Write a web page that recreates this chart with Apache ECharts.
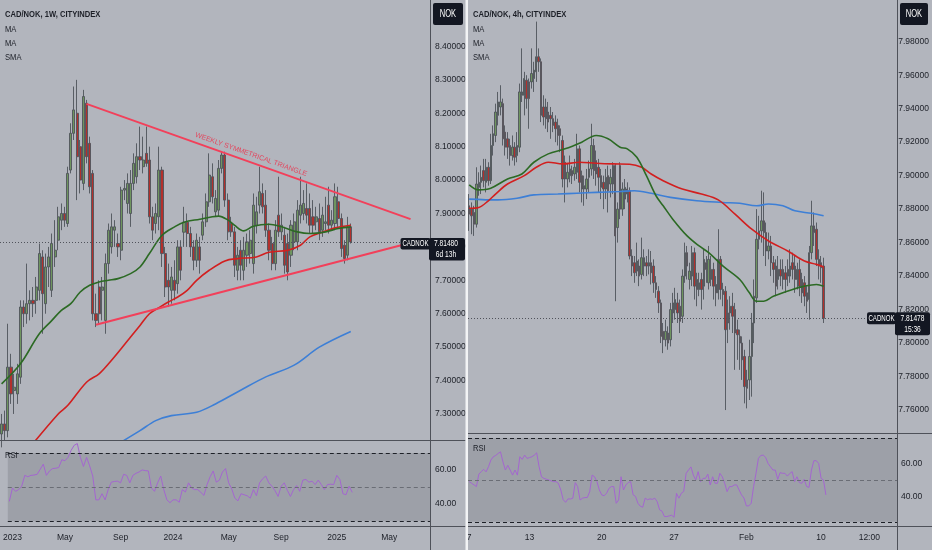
<!DOCTYPE html>
<html><head><meta charset="utf-8">
<script src="https://cdn.jsdelivr.net/npm/echarts@6/dist/echarts.min.js"></script>
<style>html,body{margin:0;padding:0;background:#b2b5bd;}#c{width:932px;height:550px;}</style>
</head><body><div id="c"></div>
<script>
// ---------------- LEFT PANEL (weekly) ----------------
const leftStart = '2022-12-26';
const leftCount = 137;
const leftTicks = [['2023-01-02','2023'],['2023-05-01','May'],['2023-09-04','Sep'],['2024-01-01','2024'],['2024-05-06','May'],['2024-09-02','Sep'],['2025-01-06','2025'],['2025-05-05','May']];
const leftPriceTicks = [7.3,7.4,7.5,7.6,7.7,7.8,7.9,8.0,8.1,8.2,8.3,8.4];
// [open, close, low, high]
const leftCandles = [
[7.24,7.27,7.20,7.30],[7.27,7.25,7.22,7.31],[7.25,7.44,7.23,7.57],[7.44,7.36,7.33,7.48],[7.37,7.38,7.30,7.42],
[7.36,7.42,7.33,7.45],[7.41,7.62,7.39,7.64],[7.62,7.60,7.56,7.64],[7.60,7.63,7.57,7.75],[7.63,7.64,7.58,7.67],
[7.64,7.63,7.59,7.68],[7.64,7.68,7.60,7.71],[7.67,7.78,7.64,7.81],[7.77,7.66,7.54,7.79],[7.63,7.74,7.60,7.78],
[7.74,7.77,7.68,7.80],[7.67,7.81,7.65,7.84],[7.77,7.79,7.74,7.88],[7.82,7.89,7.79,7.92],[7.88,7.90,7.85,7.93],
[7.90,7.88,7.86,7.92],[7.87,8.02,7.86,8.04],[8.03,8.14,8.02,8.17],[8.14,8.21,8.12,8.28],[8.20,8.07,7.94,8.30],
[8.10,8.00,7.96,8.12],[7.99,8.25,7.97,8.27],[8.23,8.07,8.05,8.24],[8.11,7.98,7.96,8.13],[8.02,7.60,7.58,8.03],
[7.60,7.58,7.56,7.66],[7.68,7.60,7.57,7.70],[7.67,7.68,7.58,7.71],[7.58,7.75,7.54,7.78],[7.75,7.85,7.72,7.87],
[7.80,7.86,7.78,7.90],[7.85,7.86,7.80,7.88],[7.81,7.80,7.77,7.84],[7.79,7.97,7.76,7.98],[7.97,7.975,7.94,8.00],
[7.93,7.99,7.90,8.02],[7.90,7.99,7.86,8.03],[7.99,8.05,7.97,8.08],[8.01,8.07,7.99,8.11],[8.07,8.06,8.03,8.16],
[8.04,8.06,8.02,8.13],[8.08,8.05,8.04,8.16],[8.06,7.89,7.87,8.10],[7.89,7.85,7.82,7.92],[7.87,7.90,7.84,7.93],
[7.89,8.03,7.85,8.10],[8.03,7.78,7.74,8.04],[7.78,7.68,7.65,7.80],[7.70,7.68,7.62,7.75],[7.67,7.71,7.63,7.74],
[7.70,7.67,7.64,7.76],[7.69,7.80,7.66,7.82],[7.80,7.73,7.70,7.82],[7.844,7.874,7.80,7.92],[7.874,7.84,7.80,7.90],
[7.84,7.80,7.77,7.86],[7.80,7.76,7.73,7.82],[7.76,7.82,7.74,7.84],[7.80,7.76,7.72,7.83],[7.835,7.875,7.82,7.90],
[7.875,7.935,7.86,7.96],[7.935,8.015,7.92,8.08],[8.01,7.95,7.93,8.05],[7.905,7.945,7.89,7.97],[7.91,8.035,7.89,8.06],
[8.035,8.075,8.02,8.085],[8.075,7.94,7.92,8.085],[7.94,7.845,7.82,7.96],[7.87,7.845,7.83,7.89],[7.845,7.745,7.71,7.86],
[7.73,7.775,7.70,7.80],[7.79,7.745,7.70,7.82],[7.73,7.79,7.70,7.83],[7.775,7.815,7.74,7.84],[7.78,7.82,7.75,7.85],
[7.75,7.925,7.72,7.96],[7.865,7.905,7.84,7.95],[7.925,7.965,7.90,8.04],[7.96,7.92,7.90,7.99],[7.925,7.85,7.83,7.97],
[7.85,7.79,7.76,7.87],[7.81,7.75,7.73,7.83],[7.75,7.85,7.73,7.88],[7.895,7.845,7.83,8.01],[7.845,7.865,7.82,7.90],
[7.835,7.745,7.72,7.86],[7.81,7.725,7.70,7.84],[7.775,7.865,7.74,7.88],[7.815,7.875,7.79,7.90],[7.815,7.91,7.79,7.94],
[7.895,7.925,7.87,8.01],[7.90,7.93,7.88,7.97],[7.915,7.895,7.87,7.99],[7.915,7.865,7.84,7.96],[7.89,7.865,7.84,7.94],
[7.875,7.89,7.85,7.92],[7.885,7.845,7.82,7.93],[7.85,7.895,7.83,7.92],[7.87,7.875,7.85,7.95],[7.925,7.865,7.84,7.98],
[7.865,7.88,7.85,7.91],[7.87,7.95,7.85,7.99],[7.935,7.885,7.86,7.98],[7.885,7.795,7.77,7.90],[7.805,7.765,7.75,7.82],
[7.775,7.86,7.76,7.89],[7.86,7.8148,7.81,7.87]
];
// [category index, value]
const leftMaFast = [[0,7.39],[6,7.45],[12,7.54],[16,7.58],[19,7.61],[22,7.63],[25,7.665],[28,7.685],[31,7.695],[34,7.70],[37,7.705],[41,7.72],[44,7.74],[47,7.78],[51,7.835],[55,7.86],[58,7.874],[63,7.883],[67,7.89],[69,7.892],[72,7.88],[74,7.865],[77,7.848],[80,7.862],[85,7.868],[89,7.86],[94,7.845],[98,7.84],[103,7.845],[107,7.855],[111,7.86]];
const leftMaSlow = [[9,7.20],[18,7.30],[21,7.325],[27,7.395],[31,7.42],[34,7.45],[38,7.495],[41,7.53],[44,7.565],[47,7.60],[50,7.618],[53,7.635],[56,7.65],[59,7.67],[62,7.70],[66,7.73],[71,7.758],[75,7.765],[81,7.77],[85,7.784],[91,7.79],[95,7.805],[98,7.83],[102,7.844],[106,7.857],[111,7.865]];
const leftSma = [[37,7.21],[44,7.25],[49,7.28],[54,7.295],[62,7.305],[68,7.33],[76,7.371],[84,7.411],[93,7.446],[101,7.50],[111,7.547]];
const leftRsi = [41.5,49.4,47.4,48.4,50.4,56.8,56,56.8,57,57.4,60.4,63.4,56.8,59.4,60.8,61,61.4,66,65.4,67.4,71.5,74.5,75.5,67.4,62,67.4,62.4,56.4,42.4,42.4,46,42.4,48.4,52.8,53.2,53.4,52.4,57.4,56.8,52.4,56.8,58,58.8,60,59.6,59.4,49.4,47.4,52.4,56.4,48.4,42.4,40.7,42.4,42.4,41,48.4,47,52.4,49.4,48.4,48.4,46.8,45,51.4,56,59.4,52.8,54,58.8,60.8,52.4,48.8,43.4,41.8,46,45.4,44.8,43.4,48.4,44.8,52.4,54.8,56.4,52.4,50.4,47.8,44.4,50.4,52.4,48,44.4,48.4,50.8,47.4,54,54.4,52.8,53.4,51.4,54,51.4,48.4,51.4,51.6,51.4,56.8,54.4,46,45.4,50.4,46.8];
const leftTriUpper = [[27,8.228],[130,7.883]];
const leftTriLower = [[30,7.567],[127,7.805]];
const leftLast = 7.8148, leftLastText = '7.81480', leftCountdown = '6d 13h';
const leftTitle = 'CAD/NOK, 1W, CITYINDEX';
const triangleText = 'WEEKLY SYMMETRICAL TRIANGLE';

// ---------------- RIGHT PANEL (4h) ----------------
const rightCount = 178;
const rightTicks = [[0,'7'],[25,'13'],[55,'20'],[85,'27'],[115,'Feb'],[146,'10'],[166,'12:00']];
const rightPriceTicks = [7.76,7.78,7.80,7.82,7.84,7.86,7.88,7.90,7.92,7.94,7.96,7.98];
const rightCandles = [
[7.882,7.877,7.867,7.889],[7.880,7.876,7.865,7.884],[7.878,7.871,7.864,7.882],[7.871,7.895,7.869,7.905],[7.893,7.896,7.888,7.902],
[7.896,7.899,7.889,7.906],[7.903,7.897,7.893,7.910],[7.896,7.905,7.890,7.910],[7.905,7.897,7.894,7.908],[7.897,7.918,7.895,7.925],
[7.918,7.925,7.912,7.930],[7.924,7.938,7.920,7.943],[7.936,7.944,7.930,7.950],[7.941,7.944,7.936,7.954],[7.943,7.922,7.918,7.946],
[7.926,7.917,7.912,7.930],[7.922,7.917,7.910,7.926],[7.918,7.912,7.906,7.922],[7.912,7.917,7.909,7.924],[7.917,7.911,7.906,7.920],
[7.912,7.918,7.908,7.926],[7.917,7.950,7.914,7.955],[7.948,7.950,7.944,7.976],[7.948,7.958,7.936,7.962],[7.957,7.946,7.940,7.960],
[7.956,7.946,7.928,7.958],[7.956,7.961,7.952,7.976],[7.958,7.963,7.950,7.968],[7.962,7.971,7.956,7.992],[7.971,7.968,7.962,7.976],
[7.968,7.936,7.932,7.970],[7.941,7.935,7.930,7.948],[7.941,7.934,7.928,7.946],[7.938,7.932,7.926,7.944],[7.936,7.934,7.922,7.941],
[7.934,7.930,7.926,7.938],[7.932,7.928,7.920,7.936],[7.930,7.924,7.918,7.934],[7.928,7.924,7.914,7.930],[7.921,7.898,7.893,7.924],
[7.908,7.898,7.884,7.912],[7.898,7.902,7.893,7.907],[7.900,7.904,7.896,7.912],[7.903,7.900,7.895,7.906],[7.901,7.905,7.897,7.910],
[7.902,7.916,7.898,7.925],[7.916,7.896,7.890,7.918],[7.900,7.892,7.884,7.903],[7.892,7.894,7.882,7.900],[7.892,7.898,7.886,7.904],
[7.899,7.904,7.890,7.909],[7.904,7.918,7.900,7.931],[7.918,7.903,7.898,7.922],[7.909,7.901,7.894,7.915],[7.905,7.899,7.890,7.910],
[7.900,7.893,7.886,7.904],[7.896,7.892,7.880,7.900],[7.892,7.899,7.886,7.904],[7.900,7.891,7.878,7.906],[7.895,7.899,7.887,7.904],
[7.895,7.906,7.889,7.908],[7.906,7.864,7.825,7.907],[7.869,7.880,7.860,7.884],[7.906,7.880,7.874,7.908],[7.880,7.892,7.876,7.896],
[7.886,7.893,7.880,7.898],[7.892,7.889,7.884,7.896],[7.891,7.852,7.850,7.893],[7.852,7.846,7.840,7.856],[7.848,7.842,7.836,7.852],
[7.843,7.849,7.840,7.860],[7.846,7.840,7.834,7.850],[7.841,7.851,7.838,7.863],[7.846,7.851,7.840,7.856],[7.848,7.846,7.840,7.852],
[7.846,7.848,7.841,7.856],[7.848,7.842,7.835,7.855],[7.846,7.836,7.830,7.850],[7.836,7.832,7.827,7.840],[7.831,7.824,7.818,7.834],
[7.824,7.804,7.800,7.826],[7.807,7.802,7.794,7.812],[7.802,7.807,7.798,7.814],[7.806,7.800,7.796,7.810],[7.802,7.820,7.798,7.824],
[7.818,7.824,7.812,7.830],[7.820,7.826,7.814,7.833],[7.824,7.818,7.812,7.830],[7.822,7.813,7.806,7.826],[7.816,7.840,7.812,7.844],
[7.840,7.854,7.836,7.860],[7.854,7.846,7.838,7.858],[7.838,7.843,7.832,7.848],[7.840,7.854,7.834,7.858],[7.854,7.834,7.826,7.857],
[7.838,7.832,7.822,7.842],[7.832,7.836,7.828,7.842],[7.838,7.832,7.820,7.842],[7.834,7.850,7.826,7.856],[7.848,7.844,7.836,7.852],
[7.836,7.850,7.832,7.858],[7.838,7.844,7.834,7.852],[7.844,7.834,7.826,7.848],[7.835,7.830,7.822,7.840],[7.830,7.850,7.826,7.868],
[7.850,7.832,7.826,7.852],[7.832,7.829,7.822,7.836],[7.831,7.808,7.760,7.834],[7.818,7.812,7.800,7.826],[7.818,7.822,7.808,7.828],
[7.822,7.816,7.806,7.830],[7.820,7.806,7.784,7.824],[7.808,7.805,7.790,7.814],[7.804,7.800,7.784,7.808],[7.800,7.790,7.778,7.804],
[7.792,7.774,7.764,7.796],[7.778,7.773,7.761,7.784],[7.778,7.792,7.766,7.802],[7.792,7.812,7.768,7.818],[7.812,7.828,7.800,7.838],
[7.827,7.862,7.824,7.880],[7.862,7.867,7.856,7.876],[7.867,7.873,7.860,7.891],[7.873,7.866,7.852,7.890],[7.866,7.855,7.846,7.872],
[7.855,7.858,7.850,7.866],[7.858,7.848,7.840,7.864],[7.848,7.844,7.836,7.852],[7.846,7.834,7.828,7.850],[7.838,7.844,7.832,7.852],
[7.844,7.840,7.834,7.850],[7.844,7.838,7.832,7.850],[7.842,7.838,7.830,7.846],[7.844,7.840,7.834,7.850],[7.840,7.846,7.836,7.856],
[7.848,7.844,7.838,7.854],[7.846,7.838,7.830,7.852],[7.838,7.844,7.832,7.848],[7.844,7.834,7.828,7.850],[7.838,7.830,7.824,7.842],
[7.836,7.828,7.822,7.840],[7.830,7.825,7.818,7.834],[7.826,7.854,7.814,7.858],[7.854,7.870,7.850,7.885],[7.870,7.866,7.858,7.878],
[7.868,7.850,7.846,7.872],[7.850,7.846,7.838,7.856],[7.848,7.845,7.836,7.852],[7.846,7.8148,7.812,7.851]
];
const rightMaFast = [[0,7.8945],[4,7.8915],[9,7.8925],[16,7.898],[22,7.901],[27,7.908],[33,7.913],[40,7.916],[47,7.920],[53,7.924],[58,7.922],[63,7.917],[66,7.916],[70,7.911],[74,7.900],[78,7.888],[81,7.882],[85,7.874],[91,7.864],[96,7.858],[100,7.854],[106,7.846],[113,7.838],[117,7.830],[120,7.825],[123,7.825],[127,7.828],[135,7.832],[140,7.834],[145,7.835],[148,7.834]];
const rightMaSlow = [[0,7.8805],[4,7.881],[8,7.885],[11,7.889],[16,7.895],[23,7.900],[28,7.905],[33,7.908],[39,7.907],[46,7.908],[53,7.9074],[60,7.907],[67,7.9068],[72,7.905],[76,7.901],[81,7.897],[89,7.892],[97,7.889],[104,7.8855],[111,7.877],[118,7.868],[125,7.861],[133,7.855],[140,7.849],[145,7.847],[148,7.8455]];
const rightSma = [[0,7.886],[12,7.8855],[20,7.8865],[27,7.8885],[37,7.889],[45,7.8895],[53,7.890],[63,7.8905],[69,7.891],[76,7.8895],[84,7.887],[95,7.885],[106,7.884],[113,7.8835],[120,7.882],[125,7.8831],[131,7.882],[136,7.879],[143,7.8775],[148,7.876]];
const rightRsi = [49,48,47,46,53.6,55.1,56.5,55,58.1,62.2,64.2,65,66.2,67.2,61.1,56.1,59,56.1,53,56.1,53,64.2,62.6,65.2,63.2,63.7,64.2,65.2,66.6,58.1,52,51,50.5,50,49.5,49,49,48,43.9,38,36.4,38.5,38.4,38.9,48.4,46,37.8,38.9,39.3,39.3,42.9,53,52,49,43.9,40.9,40.4,41.9,44.9,46,46,35.8,37.8,52,43.9,47,48.5,49,41,40,35.8,34,33.4,38.9,38,38.5,38.2,38.9,36.8,31.8,31,27.7,27.7,28.1,28.5,27.3,41.9,38.9,41.9,43,54.1,56.1,58,53,50,55.1,49,51,51,53.6,47,52,48,48,54.1,52,48,42.9,46,46,47,47,43.9,40.9,39,34.2,34.2,35.8,46,54.1,63.2,65,65.2,63.8,60.1,58.1,56.1,56.1,50.4,54.5,54.1,54.1,52.4,54,55.1,49,52,48.4,48,50.4,46,45.5,56.1,61.8,61.8,60.1,51,50,40.9];
const rightLast = 7.81478, rightLastText = '7.81478', rightCountdown = '15:36';
const rightTitle = 'CAD/NOK, 4h, CITYINDEX';
const indicatorNames = ['MA','MA','SMA'];

// ---------------- styles ----------------
const BG='#b2b5bd', BAND='#9da0a8', SEP='#4e5159', TXT='#1c1f27';
const UP='#6f955f', DOWN='#b3302c', WICK='#4f535b';
const C_FAST='#2c6a24', C_SLOW='#d21f1f', C_SMA='#3d7fd6', C_RSI='#a466d0', C_TRI='#f2405a';
const FONT="'Liberation Sans',Arial,sans-serif";
const SX=0.8; // horizontal squeeze of overlay texts

const leftCats=[]; { const t0=Date.parse(leftStart+'T00:00:00Z'); for(let i=0;i<leftCount;i++) leftCats.push(new Date(t0+i*7*86400000).toISOString().slice(0,10)); }
const rightCats=[]; for(let i=0;i<rightCount;i++) rightCats.push(String(i));
const leftTickMap=Object.fromEntries(leftTicks);
const rightTickMap=Object.fromEntries(rightTicks.map(t=>[String(t[0]),t[1]]));

const chart=echarts.init(document.getElementById('c'));

function xAx(grid,cats,map,show){
  return {type:'category',gridIndex:grid,data:cats,boundaryGap:true,
    axisLine:{show:false},axisTick:{show:false},splitLine:{show:false},
    axisLabel:{show:show,interval:(i,v)=>v in map,formatter:v=>map[v]||'',color:TXT,fontSize:8.5,fontFamily:FONT,margin:6}};
}
function yAx(grid,min,max,ticks,dec){
  return {type:'value',gridIndex:grid,position:'right',min:min,max:max,scale:true,
    axisLine:{show:false},axisTick:{show:false},splitLine:{show:false},
    axisLabel:{customValues:ticks,formatter:v=>v.toFixed(dec),color:TXT,fontSize:8.5,fontFamily:FONT,margin:4}};
}
function maLine(x,y,data,color){
  return {type:'line',xAxisIndex:x,yAxisIndex:y,data:data,smooth:0.35,showSymbol:false,silent:true,
    lineStyle:{color:color,width:1.6},z:3};
}
function rsiSeries(x,y,data,hi,lo){
  return {type:'line',xAxisIndex:x,yAxisIndex:y,data:data,showSymbol:false,silent:true,
    lineStyle:{color:C_RSI,width:1},z:4,
    markArea:{silent:true,itemStyle:{color:BAND},data:[[{yAxis:lo},{yAxis:hi}]]},
    markLine:{silent:true,symbol:['none','none'],precision:5,label:{show:false},animation:false,
      data:[{yAxis:hi,lineStyle:{color:'#1d2027',type:[4,3],width:1}},
            {yAxis:50,lineStyle:{color:'#6a6d75',type:[4,3],width:1}},
            {yAxis:lo,lineStyle:{color:'#1d2027',type:[4,3],width:1}}]}};
}
function candles(x,y,data,bw,last,tri){
  const ml=[{yAxis:last,lineStyle:{color:'#50535b',type:[1,2],width:1},label:{show:false}}];
  if(tri){
    ml.push([{coord:tri[0][0]},{coord:tri[0][1],lineStyle:{color:C_TRI,width:2,type:'solid'},
      label:{show:true,position:'middle',formatter:triangleText,color:'#e2475e',fontSize:7,fontFamily:FONT,distance:4}}]);
    ml.push([{coord:tri[1][0]},{coord:tri[1][1],lineStyle:{color:C_TRI,width:2,type:'solid'},label:{show:false}}]);
  }
  return {type:'candlestick',xAxisIndex:x,yAxisIndex:y,data:data,barWidth:bw,silent:true,z:2,
    itemStyle:{color:UP,color0:DOWN,borderColor:WICK,borderColor0:WICK,borderWidth:0.9},
    markLine:{silent:true,symbol:['none','none'],precision:6,animation:false,data:ml}};
}

const option={
  backgroundColor:BG,animation:false,
  grid:[
    {left:0,top:0,width:431,height:440},
    {left:0,top:440,width:431,height:86.7},
    {left:468,top:0,width:429,height:433.5},
    {left:468,top:433.5,width:429,height:93.2}
  ],
  xAxis:[xAx(0,leftCats,leftTickMap,false),xAx(1,leftCats,leftTickMap,true),xAx(2,rightCats,rightTickMap,false),xAx(3,rightCats,rightTickMap,true)],
  yAxis:[yAx(0,7.222,8.539,leftPriceTicks,5),yAx(1,26.6,77.6,[40,60],2),yAx(2,7.746,8.0049,rightPriceTicks,5),yAx(3,21.5,78.4,[40,60],2)],
  series:[
    candles(0,0,leftCandles,2.6,leftLast,[leftTriUpper,leftTriLower]),
    maLine(0,0,leftSma,C_SMA),maLine(0,0,leftMaSlow,C_SLOW),maLine(0,0,leftMaFast,C_FAST),
    rsiSeries(1,1,leftRsi,70,30),
    candles(2,2,rightCandles,1.9,rightLast,null),
    maLine(2,2,rightSma,C_SMA),maLine(2,2,rightMaSlow,C_SLOW),maLine(2,2,rightMaFast,C_FAST),
    rsiSeries(3,3,rightRsi,75.5,24.5)
  ]
};
chart.setOption(option);

// overlay elements (separators, header texts, price tags)
const g=[];
function line(x1,y1,x2,y2,c,w){g.push({type:'line',z:100,silent:true,shape:{x1,y1,x2,y2},style:{stroke:c||SEP,lineWidth:w||1}});}
function txt(x,y,t,o,sx){g.push({type:'text',z:101,silent:true,x:x,y:y,scaleX:sx||SX,style:Object.assign({text:t,fill:TXT,font:'9.5px '+FONT,textVerticalAlign:'middle'},o||{})});}
function box(x,y,w,h){g.push({type:'rect',z:100,silent:true,shape:{x,y,width:w,height:h,r:2},style:{fill:'#131722'}});}
line(430.5,0,430.5,550); line(0,440.5,465.5,440.5); line(0,526.5,465.5,526.5);
line(897.5,0,897.5,550); line(468,433.5,932,433.5); line(468,526.5,932,526.5);
g.push({type:'rect',z:102,silent:true,shape:{x:465.5,y:0,width:2.5,height:550},style:{fill:'#f2f3f5'}});
// header
txt(5,14,leftTitle,{font:'bold 9.5px '+FONT});
indicatorNames.forEach((n,i)=>txt(5,29+14*i,n));
txt(473,14,rightTitle,{font:'bold 9.5px '+FONT});
indicatorNames.forEach((n,i)=>txt(473,29+14*i,n));
txt(5,455,'RSI'); txt(473,448,'RSI');
// NOK boxes
box(433,3,30,22); txt(448,14,'NOK',{fill:'#fff',textAlign:'center',font:'10px '+FONT},0.75);
box(900,3,28,22); txt(914,14,'NOK',{fill:'#fff',textAlign:'center',font:'10px '+FONT},0.75);
// last price tags
const TAG='8.5px '+FONT;
const yl=chart.convertToPixel({yAxisIndex:0},leftLast);
box(400.5,yl-4,30,11.5); box(429,yl-4,36,22.5);
txt(415.5,yl+1.8,'CADNOK',{fill:'#fff',textAlign:'center',font:TAG},0.72);
txt(446,yl+1.8,leftLastText,{fill:'#fff',textAlign:'center',font:TAG},0.78);
txt(446,yl+12.5,leftCountdown,{fill:'#fff',textAlign:'center',font:TAG},0.78);
const yr=chart.convertToPixel({yAxisIndex:2},rightLast);
box(867,yr-6,29,12); box(895,yr-6,35,23);
txt(881.5,yr,'CADNOK',{fill:'#fff',textAlign:'center',font:TAG},0.72);
txt(912.5,yr,rightLastText,{fill:'#fff',textAlign:'center',font:TAG},0.78);
txt(912.5,yr+11,rightCountdown,{fill:'#fff',textAlign:'center',font:TAG},0.78);
chart.setOption({graphic:g});
</script>
</body></html>
